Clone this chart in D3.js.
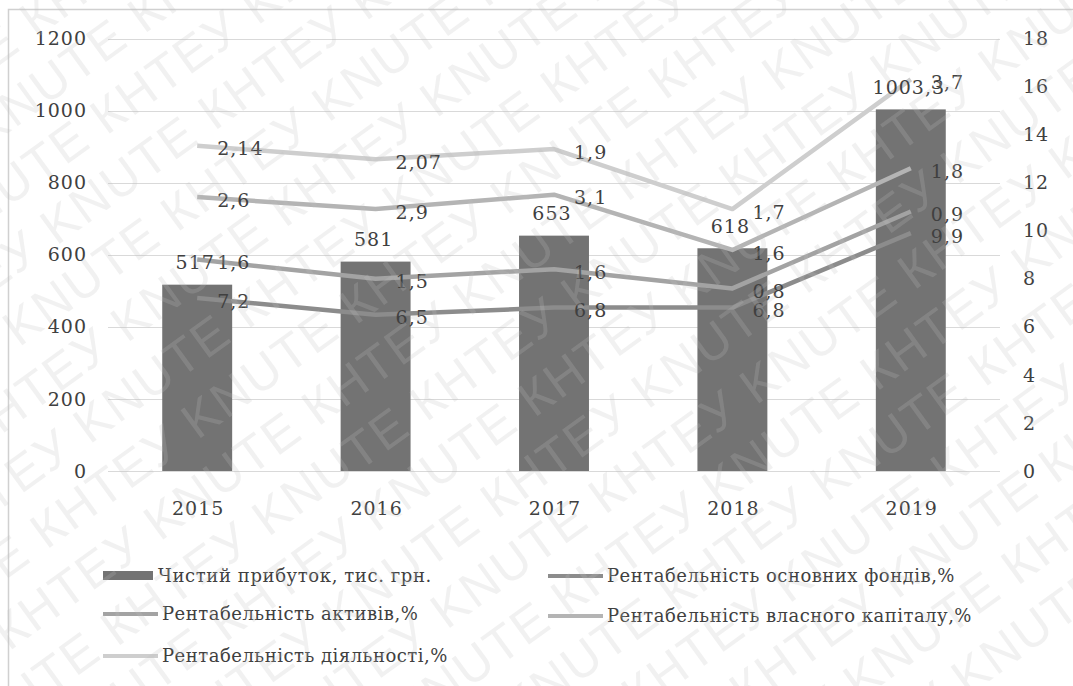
<!DOCTYPE html>
<html lang="uk">
<head>
<meta charset="utf-8">
<title>Chart</title>
<script src="https://d3js.org/d3.v7.min.js"></script>
<style>
  body { margin: 0; background: #fff; }
</style>
</head>
<body>
<div id="dataviz"></div>
<script>

// data
var years = ["2015", "2016", "2017", "2018", "2019"];
var profit = [517, 581, 653, 618, 1003.3];
var rentFunds = [7.2, 6.5, 6.8, 6.8, 9.9];
var rentAssets = [1.6, 1.5, 1.6, 0.8, 0.9];
var rentEquity = [2.6, 2.9, 3.1, 1.6, 1.8];
var rentActivity = [2.14, 2.07, 1.9, 1.7, 3.7];
var leftTicks = [0, 200, 400, 600, 800, 1000, 1200];
var rightTicks = [0, 2, 4, 6, 8, 10, 12, 14, 16, 18];

var barName = "Чистий прибуток, тис. грн.";
var seriesNames = ["Рентабельність основних фондів,%", "Рентабельність активів,%",
                   "Рентабельність власного капіталу,%", "Рентабельність діяльності,%"];

var W = 1073, H = 686;
var serif = "DejaVu Serif, Liberation Serif, Tinos, Nimbus Roman, Noto Serif, serif";
var svg = d3.select("#dataviz").append("svg")
    .attr("width", W).attr("height", H)
    .style("font-family", serif);

// chart frame
svg.append("rect")
  .attr("x", 8.5).attr("y", 9.5)
  .attr("width", W + 10).attr("height", H + 10)
  .attr("fill", "#fff").attr("stroke", "#d0d0d0").attr("stroke-width", 1.5);

// scales
var x = d3.scaleBand().domain(years).range([108, 1000]).paddingInner(0.608).paddingOuter(0.304);
var yL = d3.scaleLinear().domain([0, 1200]).range([471, 38.5]);
var yR = d3.scaleLinear().domain([0, 18]).range([471, 38.5]);

// gridlines
svg.append("g").selectAll("line").data(leftTicks).enter().append("line")
  .attr("x1", 108).attr("x2", 1000)
  .attr("y1", function(d) { return Math.round(yL(d)) + 0.5; })
  .attr("y2", function(d) { return Math.round(yL(d)) + 0.5; })
  .attr("stroke", "#d9d9d9").attr("stroke-width", 1);

function label(sel, size, spacing) {
  return sel.style("font-family", serif)
    .style("font-size", size + "px")
    .style("letter-spacing", spacing + "px")
    .attr("fill", "#404040");
}

// axis labels
var tickFont = 19;
label(svg.append("g").selectAll("text").data(leftTicks).enter().append("text"), tickFont, 1)
  .attr("x", 87).attr("y", function(d) { return yL(d); })
  .attr("dy", "0.35em")
  .attr("text-anchor", "end")
  .text(function(d) { return d; });

label(svg.append("g").selectAll("text").data(rightTicks).enter().append("text"), tickFont, 1)
  .attr("x", 1023).attr("y", function(d) { return yR(d); })
  .attr("dy", "0.35em")
  .text(function(d) { return d; });

label(svg.append("g").selectAll("text").data(years).enter().append("text"), tickFont, 1)
  .attr("x", function(d) { return x(d) + x.bandwidth() / 2 + 1; })
  .attr("y", 508).attr("dy", "0.35em")
  .attr("text-anchor", "middle")
  .text(function(d) { return d; });

// bars
svg.append("g").selectAll("rect").data(profit).enter().append("rect")
  .attr("x", function(d, i) { return x(years[i]); })
  .attr("y", function(d) { return yL(d); })
  .attr("width", x.bandwidth())
  .attr("height", function(d) { return yL(0) - yL(d); })
  .attr("fill", "#737373");

// stacked lines
var series = [rentFunds, rentAssets, rentEquity, rentActivity];
var lineColors = ["#8c8c8c", "#a3a3a3", "#b4b4b4", "#cecece"];
var cum = years.map(function() { return 0; });
var stacked = series.map(function(s) {
  cum = cum.map(function(c, i) { return c + s[i]; });
  return cum.slice();
});

var line = d3.line()
  .x(function(d, i) { return x(years[i]) + x.bandwidth() / 2; })
  .y(function(d) { return yR(d); });

stacked.forEach(function(s, k) {
  svg.append("path")
    .datum(s)
    .attr("d", line)
    .attr("fill", "none")
    .attr("stroke", lineColors[k])
    .attr("stroke-width", 4.5)
    .attr("stroke-linejoin", "round");
});

// data labels
var fmt = function(v) { return String(v).replace(".", ","); };

label(svg.append("g").selectAll("text").data(profit).enter().append("text"), tickFont, 1)
  .attr("x", function(d, i) { return x(years[i]) + x.bandwidth() / 2 - 2; })
  .attr("y", function(d) { return yL(d) - 22; })
  .attr("dy", "0.35em")
  .attr("text-anchor", "middle")
  .text(fmt);

stacked.forEach(function(s, k) {
  label(svg.append("g").selectAll("text").data(s).enter().append("text"), tickFont, 1)
    .attr("x", function(d, i) { return x(years[i]) + x.bandwidth() / 2 + 20; })
    .attr("y", function(d) { return yR(d) + 3; })
    .attr("dy", "0.35em")
    .text(function(d, i) { return fmt(series[k][i]); });
});

// legend
var legendFont = 18;
var lg = svg.append("g");
lg.append("rect").attr("x", 103).attr("y", 571).attr("width", 50).attr("height", 9).attr("fill", "#737373");
label(lg.append("text"), legendFont, 0.6)
  .attr("x", 158).attr("y", 576).attr("dy", "0.35em").text(barName);

var legendPos = [[548, 576], [103, 614], [548, 616], [103, 656]];
seriesNames.forEach(function(name, k) {
  var p = legendPos[k];
  lg.append("line").attr("x1", p[0]).attr("x2", p[0] + 55)
    .attr("y1", p[1]).attr("y2", p[1])
    .attr("stroke", lineColors[k]).attr("stroke-width", 4);
  label(lg.append("text"), legendFont, 0.5)
    .attr("x", p[0] + 59).attr("y", p[1]).attr("dy", "0.35em").text(name);
});

// watermark
var wm = svg.append("g")
  .attr("transform", "translate(536,343) rotate(-36)")
  .style("pointer-events", "none");
var rowText = d3.range(8).map(function(i) { return i % 2 ? "KNUTE" : "КНТЕУ"; }).join(" ");
d3.range(-9, 10).forEach(function(r) {
  wm.append("text")
    .attr("x", -900 + (r % 2) * 90).attr("y", r * 60)
    .style("font-family", "Liberation Sans, Arial, sans-serif")
    .style("font-size", "50px")
    .attr("fill", "rgb(190,190,190)").attr("fill-opacity", 0.22)
    .style("letter-spacing", "2px")
    .text(rowText + " " + rowText);
});

</script>
</body>
</html>
